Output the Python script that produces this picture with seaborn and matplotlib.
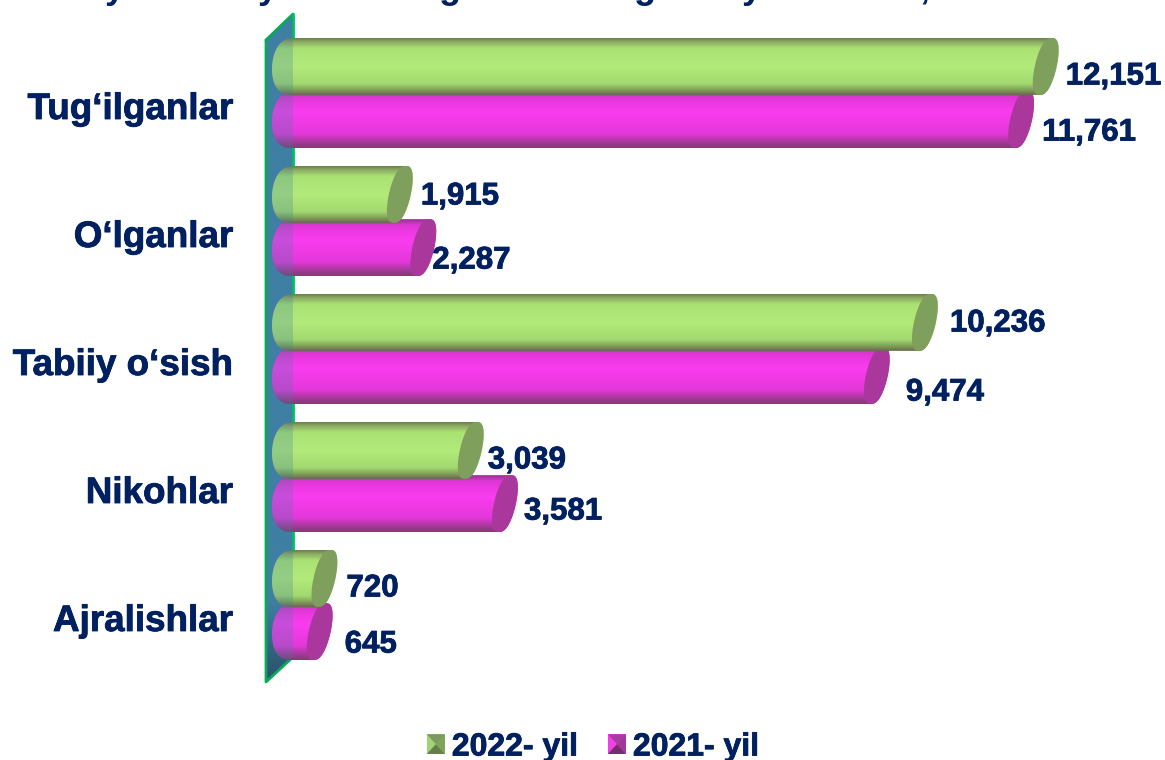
import numpy as np
import pandas as pd
import seaborn as sns
import matplotlib.pyplot as plt
import matplotlib.patheffects as pe
from matplotlib.colors import LinearSegmentedColormap
from matplotlib.patches import Polygon, PathPatch, Patch
from matplotlib.path import Path
from matplotlib.transforms import ScaledTranslation

categories = ["Tug‘ilganlar", "O‘lganlar", "Tabiiy o‘sish", "Nikohlar", "Ajralishlar"]
years = ["2022- yil", "2021- yil"]
values_2022 = [12151, 1915, 10236, 3039, 720]
values_2021 = [11761, 2287, 9474, 3581, 645]

# clipped title, only the descenders are left in the picture
title_glyphs = ["y", "y", "g", "g", "y", ","]
title_glyph_x = [115, 268, 450, 645, 752, 925]

# label nudges in pixels, from the end of the bar
nudge_x_2022 = [20, 21, 25, 17, 22]
nudge_y_2022 = [10, 2, 1, 10, 10]
nudge_x_2021 = [21, 9, 29, 19, 25]
nudge_y_2021 = [13, 13, 17, 8, 13]

navy = "#002060"
W, H = 1165, 760
X0, K = 279, 0.0631        # pixel of value 0, pixels per unit
Y0, ROW = 93, 128          # pixel of first category, pixels per category

sns.set_theme(style="white")
plt.rcParams["font.family"] = ["Liberation Sans", "DejaVu Sans"]
plt.rcParams["font.weight"] = "bold"

df = pd.DataFrame({
    "category": categories * 2,
    "year": [years[0]] * 5 + [years[1]] * 5,
    "value": values_2022 + values_2021,
})

fig = plt.figure(figsize=(W / 100, H / 100), dpi=100)
ax = fig.add_axes([0, 0, 1, 1])
sns.barplot(data=df, x="value", y="category", hue="year", order=categories, hue_order=years,
            palette=["#AEE678", "#FA3CF0"], orient="h", width=0.83, gap=-0.07,
            legend=False, errorbar=None, ax=ax)


def px_x(v):
    return (v - X0) / K


def px_y(v):
    return (v - Y0) / ROW


xlim = (px_x(0), px_x(W))
ylim = (px_y(H), px_y(0))
heavy = [pe.withStroke(linewidth=0.6, foreground=navy)]


def cmap_from(stops):
    return LinearSegmentedColormap.from_list("c", [(p, np.array(c) / 255) for p, c in stops])


def rounded(ang):
    # cosine pushed out a little, the cylinder ends are squarer than an ellipse
    return np.sign(np.cos(ang)) * np.abs(np.cos(ang)) ** 0.75


green_map = cmap_from([(0, (112, 124, 78)), (0.07, (140, 175, 98)), (0.18, (170, 226, 116)), (0.5, (178, 235, 122)),
                       (0.8, (162, 218, 112)), (0.93, (124, 150, 86)), (1, (100, 108, 72))])
pink_map = cmap_from([(0, (150, 50, 140)), (0.1, (222, 55, 212)), (0.35, (250, 60, 240)), (0.75, (228, 56, 218)),
                      (0.93, (152, 58, 140)), (1, (128, 60, 118))])
cap_colors = ["#7F9F5C", "#AA379C"]
ramp = np.linspace(0, 1, 128).reshape(-1, 1)

# wall behind the bars
wall_px = [(266, 40), (293, 14), (293, 657), (266, 682)]
wall_pts = [(px_x(u), px_y(v)) for u, v in wall_px]
wall_map = cmap_from([(0, (64, 127, 163)), (0.88, (64, 127, 163)), (1, (34, 66, 84))])
wall_clip = Polygon(wall_pts, closed=True, transform=ax.transData, fc="none", ec="none")
ax.add_patch(wall_clip)
ax.imshow(np.linspace(0, 1, 256).reshape(-1, 1), cmap=wall_map, aspect="auto", zorder=1,
          extent=(px_x(266), px_x(293), px_y(682), px_y(14)), clip_path=wall_clip)
ax.plot(*zip(*wall_pts[:2]), color="#00B050", lw=2, zorder=2)
ax.plot(*zip(*[wall_pts[0], wall_pts[3], wall_pts[2]]), color="#00B050", lw=2, zorder=2)
ax.plot(*zip(*wall_pts[1:3]), color="#00C060", lw=2, zorder=2)

a, s = 11 / K, 6 / K
a_left, s_left = 21 / K, 1.5 / K
t = np.linspace(0, 2 * np.pi, 90)

for c, (container, gmap, cap) in enumerate(zip(ax.containers, [green_map, pink_map], cap_colors)):
    z = 4 - c
    for bar in container:
        bar.set_alpha(0)
        top, bottom = bar.get_y(), bar.get_y() + bar.get_height()
        cy, b = (top + bottom) / 2, (bottom - top) / 2
        start, end = px_x(293), bar.get_width()
        t_left = np.linspace(np.pi / 2, 3 * np.pi / 2, 40)
        t_right = np.linspace(-np.pi / 2, np.pi / 2, 40)
        xs = np.r_[start + a_left * rounded(t_left) + s_left * np.sin(t_left),
                   end + a * rounded(t_right) + s * np.sin(t_right)]
        ys = np.r_[cy - b * np.sin(t_left), cy - b * np.sin(t_right)]
        body = PathPatch(Path(np.c_[xs, ys]), transform=ax.transData, fc="none", ec="none", zorder=z)
        ax.add_patch(body)
        ax.imshow(ramp, cmap=gmap, aspect="auto", zorder=z,
                  extent=(xs.min(), xs.max(), bottom, top), clip_path=body)
        ax.add_patch(Polygon(np.c_[end + a * rounded(t) + s * np.sin(t), cy - b * np.sin(t)],
                             closed=True, fc=cap, ec="none", zorder=z + 0.1))

# wall tint over the start of the bars
ax.add_patch(Polygon(wall_pts, closed=True, fc="#3F7FA3", ec="none", alpha=0.26, zorder=6))

# value labels
all_nudges = [(nudge_x_2022, nudge_y_2022), (nudge_x_2021, nudge_y_2021)]
for container, series, (nx, ny) in zip(ax.containers, [values_2022, values_2021], all_nudges):
    for bar, val, dx, dy in zip(container, series, nx, ny):
        ax.annotate(f"{val:,}", (val, bar.get_y() + bar.get_height() / 2), xytext=(dx * 0.72, -dy * 0.72),
                    textcoords="offset points", ha="left", va="center", fontsize=22.5, fontweight="bold",
                    color=navy, zorder=8, path_effects=heavy)

# what is left of the title
for glyph, gx in zip(title_glyphs, title_glyph_x):
    ax.text(px_x(gx), px_y(-1.5), glyph, ha="center", va="baseline", fontsize=26, fontweight="bold",
            color=navy, clip_on=True, zorder=8)

ax.set_xlim(xlim)
ax.set_ylim(ylim)
ax.set_xlabel("")
ax.set_ylabel("")
ax.set_xticks([])
ax.tick_params(axis="y", length=0, pad=-233 * 0.72, labelsize=26.5, labelcolor=navy)
shift = ScaledTranslation(0, -12.5 / 100, fig.dpi_scale_trans)
for label in ax.get_yticklabels():
    label.set_transform(label.get_transform() + shift)
    label.set_fontweight("bold")
    label.set_path_effects(heavy)
sns.despine(ax=ax, left=True, bottom=True)
ax.patch.set_alpha(0)

handles = [Patch(fc=col, ec="none", label=yr) for col, yr in zip(["#86C05E", "#E83CDC"], years)]
leg = ax.legend(handles=handles, ncol=2, frameon=False, loc="center",
                bbox_to_anchor=(593 / W, 1 - 747.5 / H), prop={"family": "Liberation Sans", "weight": "bold", "size": 23},
                handlelength=0.56, handleheight=0.56, handletextpad=0.22, columnspacing=0.94,
                labelcolor=navy, borderpad=0, borderaxespad=0)
for text in leg.get_texts():
    text.set_path_effects(heavy)

# bevel on the legend squares
fig.canvas.draw()
inv = ax.transData.inverted()
bevels = [("#7C9A5E", "#A0D276", "#667F4A", "#7FA35A"), ("#A83CA0", "#F040E6", "#70306A", "#A03A98")]
for patch, shades in zip(leg.get_patches(), bevels):
    box = patch.get_window_extent()
    x1, x2, y1, y2 = box.x0, box.x1, box.y0, box.y1
    mid = ((x1 + x2) / 2, (y1 + y2) / 2)
    sides = [[(x1, y2), (x2, y2)], [(x1, y1), (x1, y2)], [(x1, y1), (x2, y1)], [(x2, y1), (x2, y2)]]
    for side, shade in zip(sides, shades):
        pts = inv.transform(side + [mid])
        ax.add_patch(Polygon(pts, closed=True, fc=shade, ec="none", zorder=9))

fig.savefig("out.png", dpi=100)
